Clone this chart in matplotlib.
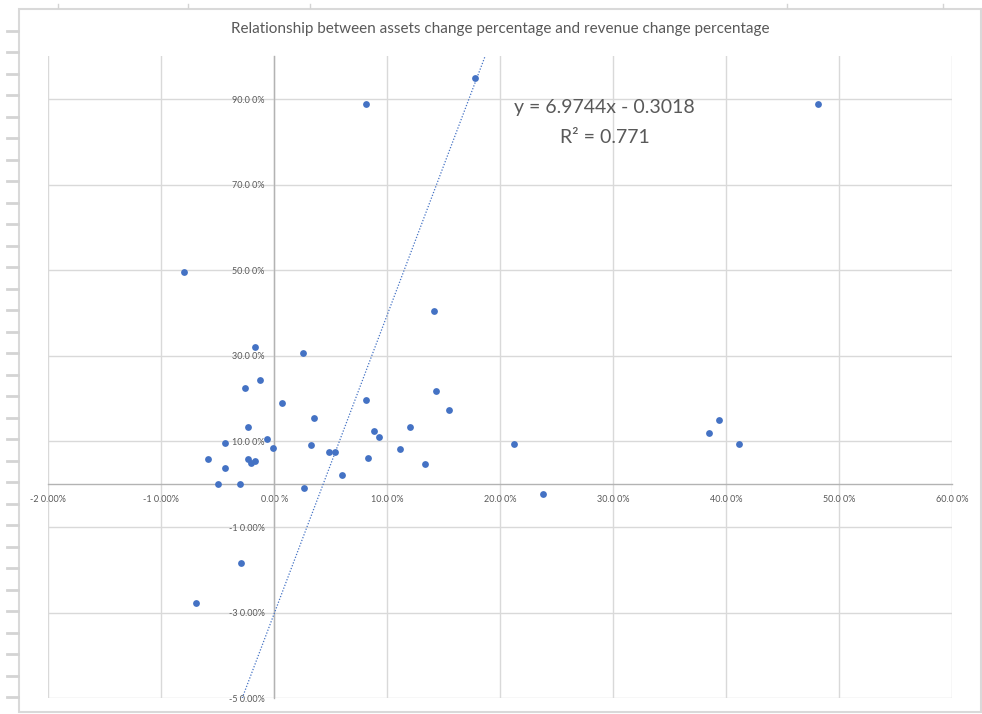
import numpy as np
import matplotlib
matplotlib.use('Agg')
import matplotlib.pyplot as plt
from matplotlib.lines import Line2D
from matplotlib.patches import Rectangle
from matplotlib.ticker import FixedLocator, FixedFormatter

plt.rcParams['font.family'] = ['Lato', 'DejaVu Sans']

# assets change (x) vs revenue change (y), as fractions
assets_change = [
    0.1773, 0.0814, 0.4818,
    -0.0799, -0.0173, 0.0251, -0.0129, -0.0262, 0.0065, 0.0349, -0.0230,
    -0.0065, -0.0436, 0.0327, -0.0009, 0.0484, 0.0537, -0.0589, -0.0230,
    -0.0209, -0.0173, -0.0436, -0.0501, -0.0306, 0.0263,
    0.1413, 0.1434, 0.0812, 0.1543, 0.1201, 0.0885, 0.0929, 0.2121,
    0.1115, 0.0832, 0.1334, 0.0602, 0.2375,
    0.3938, 0.3850, 0.4112,
    -0.0295, -0.0696,
]
revenue_change = [
    0.949, 0.889, 0.888,
    0.496, 0.320, 0.307, 0.244, 0.225, 0.191, 0.154, 0.134,
    0.106, 0.097, 0.091, 0.085, 0.0745, 0.0745, 0.0589, 0.0589,
    0.0503, 0.0535, 0.0371, 0.0, 0.0, -0.0096,
    0.405, 0.219, 0.197, 0.173, 0.134, 0.125, 0.1095, 0.094,
    0.0815, 0.062, 0.0465, 0.0215, -0.0229,
    0.150, 0.119, 0.094,
    -0.183, -0.278,
]

# Excel linear trendline
slope = 6.9744
intercept = -0.3018
r_squared = 0.771

x_ticks = [-0.2, -0.1, 0.0, 0.1, 0.2, 0.3, 0.4, 0.5, 0.6]
x_tick_labels = ['-2 0.00%', '-1 0.00%', '0.00 %', '10.0 0%', '20.0 0%',
                 '30.0 0%', '40.0 0%', '50.0 0%', '60.0 0%']
y_ticks = [-0.5, -0.3, -0.1, 0.1, 0.3, 0.5, 0.7, 0.9]
y_tick_labels = ['-5 0.00%', '-3 0.00%', '-1 0.00%', '10.0 0%', '30.0 0%',
                 '50.0 0%', '70.0 0%', '90.0 0%']

W, H = 982, 714
BLUE = '#4472C4'
GRID = '#d9d9d9'
TEXT = '#595959'

fig = plt.figure(figsize=(W / 100, H / 100), dpi=100)
ax = fig.add_axes([48.3 / W, 1 - 698.3 / H, (952 - 48.3) / W, (698.3 - 56.3) / H])

xs = np.asarray(assets_change, dtype=float)
ys = np.asarray(revenue_change, dtype=float)
ax.scatter(xs, ys, s=24, color=BLUE, zorder=4, linewidths=0)

# trendline over data x range (clipped by the plot area)
xr = np.linspace(xs.min(), xs.max(), 200)
ax.plot(xr, slope * xr + intercept, color=BLUE, linewidth=0.9,
        linestyle=(0, (1, 1.4)), zorder=3)

ax.set_xlim(-0.2, 0.6)
ax.set_ylim(-0.5, 1.0)

ax.xaxis.set_major_locator(FixedLocator(x_ticks))
ax.xaxis.set_major_formatter(FixedFormatter(x_tick_labels))
ax.yaxis.set_major_locator(FixedLocator(y_ticks))
ax.yaxis.set_major_formatter(FixedFormatter(y_tick_labels))
ax.tick_params(axis='both', length=0, labelsize=6.5, labelcolor=TEXT)
ax.tick_params(axis='x', pad=8)
ax.tick_params(axis='y', pad=7)
ax.grid(True, color=GRID, linewidth=1.0, zorder=0)
ax.set_axisbelow(True)

for side in ('top', 'right'):
    ax.spines[side].set_visible(False)
for side in ('left', 'bottom'):
    ax.spines[side].set_position('zero')
    ax.spines[side].set_color('#b3b3b3')
    ax.spines[side].set_linewidth(1.0)

eq_sign = '-' if intercept < 0 else '+'
ax.text(0.2926, 0.881, f'y = {slope:.4f}x {eq_sign} {abs(intercept):.4f}',
        ha='center', va='center', fontsize=14, color=TEXT)
ax.text(0.2926, 0.811, f'R² = {r_squared:.3f}',
        ha='center', va='center', fontsize=14, color=TEXT)

fig.text(500 / W, 1 - 29 / H,
         'Relationship between assets change percentage and revenue change percentage',
         ha='center', va='center', fontsize=11, color=TEXT)

# chart area border and sheet edges behind it
fig.add_artist(Rectangle((18.5 / W, 1 - 712 / H), (981 - 18.5) / W, (712 - 9) / H,
                         transform=fig.transFigure, fill=False, edgecolor=GRID, linewidth=1.5))
for py in np.arange(30.7, 705, 21.5):
    fig.add_artist(Line2D([7 / W, 18 / W], [1 - py / H] * 2, transform=fig.transFigure,
                          color='#d4d4d4', linewidth=2))
for px in (58, 188, 310, 787, 943):
    fig.add_artist(Line2D([px / W] * 2, [1 - 4 / H, 1 - 8 / H], transform=fig.transFigure,
                          color='#d4d4d4', linewidth=1))

fig.savefig('out.png', dpi=100, facecolor='white')
plt.close(fig)
